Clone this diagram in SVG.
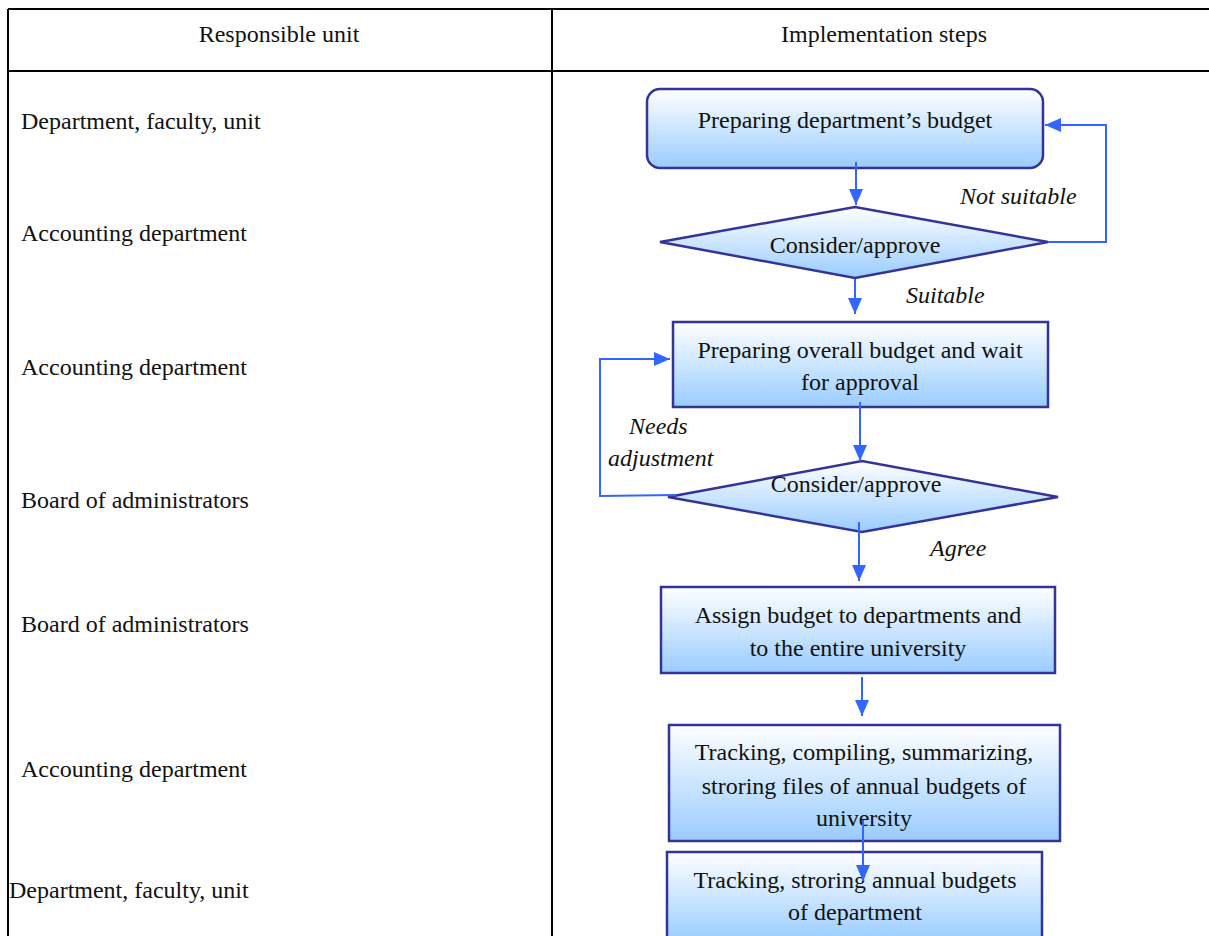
<svg xmlns="http://www.w3.org/2000/svg" width="1209" height="936" viewBox="0 0 1209 936">
<defs>
<linearGradient id="g" x1="0" y1="0" x2="0" y2="1">
<stop offset="0" stop-color="#ffffff"/>
<stop offset="1" stop-color="#99ccff"/>
</linearGradient>
<marker id="a" viewBox="0 0 16 14" refX="16" refY="7" markerWidth="16" markerHeight="14" markerUnits="userSpaceOnUse" orient="auto">
<path d="M0,0 L16,7 L0,14 Z" fill="#3366ff"/>
</marker>
</defs>
<style>
text{font-family:"Liberation Serif","DejaVu Serif",serif;font-size:24px;fill:#111}
.c{text-anchor:middle}
.i{font-style:italic}
.shape{fill:url(#g);stroke:#333399;stroke-width:2.5}
.con{fill:none;stroke:#3366ff;stroke-width:2}
.grid{stroke:#000;stroke-width:2;fill:none}
</style>
<g id="table">
<line class="grid" x1="8" y1="9" x2="1209" y2="9"/>
<line class="grid" x1="8" y1="71" x2="1209" y2="71"/>
<line class="grid" x1="8" y1="9" x2="8" y2="936"/>
<line class="grid" x1="552" y1="9" x2="552" y2="936"/>
<text class="c" x="279" y="42">Responsible unit</text>
<text class="c" x="884" y="42">Implementation steps</text>
</g>
<g id="units">
<text x="21" y="129">Department, faculty, unit</text>
<text x="21" y="241">Accounting department</text>
<text x="21" y="375">Accounting department</text>
<text x="21" y="508">Board of administrators</text>
<text x="21" y="632">Board of administrators</text>
<text x="21" y="777">Accounting department</text>
<text x="9" y="898">Department, faculty, unit</text>
</g>
<g id="n1">
<rect class="shape" x="647" y="89" width="396" height="79" rx="13"/>
<text class="c" x="845" y="128">Preparing department’s budget</text>
</g>
<g id="d1">
<polygon class="shape" points="660,242 855,207 1048,242 855,278"/>
<text class="c" x="855" y="253">Consider/approve</text>
</g>
<g id="n2">
<rect class="shape" x="673" y="322" width="375" height="85"/>
<text class="c" x="860" y="358">Preparing overall budget and wait</text>
<text class="c" x="860" y="390">for approval</text>
</g>
<g id="d2">
<polygon class="shape" points="668,497 862,461 1058,497 862,532"/>
<text class="c" x="856" y="492">Consider/approve</text>
</g>
<g id="n3">
<rect class="shape" x="661" y="587" width="394" height="86"/>
<text class="c" x="858" y="623">Assign budget to departments and</text>
<text class="c" x="858" y="656">to the entire university</text>
</g>
<g id="n4">
<rect class="shape" x="669" y="725" width="391" height="116"/>
<text class="c" x="864" y="760">Tracking, compiling, summarizing,</text>
<text class="c" x="864" y="794">stroring files of annual budgets of</text>
<text class="c" x="864" y="826">university</text>
</g>
<g id="n5">
<rect class="shape" x="667" y="852" width="375" height="90"/>
<text class="c" x="855" y="888">Tracking, stroring annual budgets</text>
<text class="c" x="855" y="920">of department</text>
</g>
<g id="connectors">
<line class="con" x1="856" y1="162" x2="856" y2="205" marker-end="url(#a)"/>
<polyline class="con" points="1048,242 1106,242 1106,125 1045,125" marker-end="url(#a)"/>
<line class="con" x1="855" y1="279" x2="855" y2="314" marker-end="url(#a)"/>
<line class="con" x1="860" y1="402" x2="860" y2="461" marker-end="url(#a)"/>
<polyline class="con" points="676,495 600,496 600,359 670,359" marker-end="url(#a)"/>
<line class="con" x1="859" y1="522" x2="859" y2="581" marker-end="url(#a)"/>
<line class="con" x1="862" y1="677" x2="862" y2="716" marker-end="url(#a)"/>
<line class="con" x1="863" y1="820" x2="863" y2="881" marker-end="url(#a)"/>
<text class="i" x="960" y="204">Not suitable</text>
<text class="i" x="906" y="303">Suitable</text>
<text class="i" x="629" y="434">Needs</text>
<text class="i" x="608" y="466">adjustment</text>
<text class="i" x="930" y="556">Agree</text>
</g>
</svg>
